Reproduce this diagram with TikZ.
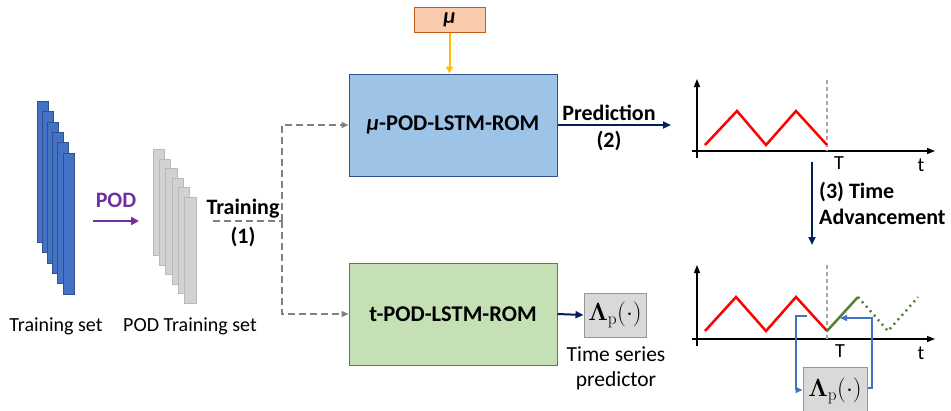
\documentclass[tikz,border=0pt]{standalone}
\usepackage[no-math]{fontspec}
\setmainfont{Carlito}
\usetikzlibrary{arrows.meta}
\definecolor{stackblue}{RGB}{68,114,196}
\definecolor{stackblueb}{RGB}{47,82,143}
\definecolor{stackgray}{RGB}{210,210,210}
\definecolor{stackgrayb}{RGB}{185,185,185}
\definecolor{podpurple}{RGB}{112,48,160}
\definecolor{dashgray}{RGB}{128,128,128}
\definecolor{mufill}{RGB}{248,203,173}
\definecolor{muborder}{RGB}{197,90,17}
\definecolor{muyellow}{RGB}{255,192,0}
\definecolor{bluefill}{RGB}{157,195,230}
\definecolor{blueborder}{RGB}{47,82,143}
\definecolor{greenfill}{RGB}{197,224,180}
\definecolor{greenborder}{RGB}{84,130,53}
\definecolor{navy}{RGB}{0,32,96}
\definecolor{lamfill}{RGB}{217,217,217}
\definecolor{lamborder}{RGB}{150,150,150}
\definecolor{wavered}{RGB}{255,0,0}
\definecolor{wavegreen}{RGB}{84,130,53}
\definecolor{loopblue}{RGB}{68,114,196}
\begin{document}
\begin{tikzpicture}[x=1pt,y=-1pt,
  txt/.style={font=\fontsize{20}{23}\selectfont, inner sep=0pt},
  btxt/.style={font=\fontsize{22}{25}\selectfont\bfseries, inner sep=0pt},
  bluesheet/.style={draw=stackblueb, fill=stackblue, line width=0.8pt, anchor=north west,
     minimum width=11pt, minimum height=141pt, inner sep=0pt},
  graysheet/.style={draw=stackgrayb, fill=stackgray, line width=0.8pt, anchor=north west,
     minimum width=11.3pt, minimum height=106pt, inner sep=0pt},
  romblock/.style={minimum width=208pt, minimum height=102pt, inner sep=0pt, line width=1pt,
     font=\fontsize{22.5}{26}\selectfont\bfseries},
  lambox/.style={draw=lamborder, fill=lamfill, line width=1pt, inner sep=0pt,
     font=\fontsize{27}{30}\selectfont},
  dashconn/.style={draw=dashgray, line width=2pt, dash pattern=on 7pt off 4pt,
     -{Triangle[length=7pt,width=6pt]}},
  navyarrow/.style={draw=navy, line width=2pt, -{Triangle[length=8pt,width=7pt]}},
  axis/.style={draw=black, line width=1.4pt, -{Triangle[length=8pt,width=6pt]}},
  tline/.style={draw=gray!70, line width=1.2pt, dash pattern=on 4pt off 3pt},
  wave/.style={draw=wavered, line width=2.5pt},
  loop/.style={draw=loopblue, line width=1.6pt, -{Triangle[length=7pt,width=6pt]}}
]
\useasboundingbox (0,0) rectangle (951,410);

% Training set stack
\foreach \i in {0,...,5}
  \node[bluesheet] (b\i) at ({37+5.1*\i},{101+10.3*\i}) {};
\node[txt] (tslabel) at (56,326) {Training set};

% POD arrow
\coordinate (podS) at (93,221);
\coordinate (podE) at (139,221);
\draw[draw=podpurple, line width=2.5pt, -{Triangle[length=8pt,width=8pt]}] (podS) -- (podE);
\node[btxt, text=podpurple] (podlabel) at (116,200) {POD};

% POD training set stack
\foreach \i in {0,...,5}
  \node[graysheet] (g\i) at ({152.7+6.3*\i},{149+9.6*\i}) {};
\node[txt] (podtslabel) at (190,326) {POD Training set};

% Training dashed connectors
\coordinate (trS) at (213,221);
\coordinate (junc) at (282,221);
\node[romblock, draw=blueborder, fill=bluefill] (mubox) at (453,125)
  {\itshape μ\upshape-POD-LSTM-ROM};
\node[romblock, draw=greenborder, fill=greenfill] (tbox) at (453,314)
  {t-POD-LSTM-ROM};
\draw[draw=dashgray, line width=2pt, dash pattern=on 7pt off 4pt] (trS) -- (junc);
\draw[dashconn] (junc) |- (mubox.west);
\draw[dashconn] (junc) |- (tbox.west);
\node[btxt] (trlabel) at (243,209) {Training};
\node[btxt] (trnum) at (243,237) {(1)};

% mu parameter
\node[draw=muborder, fill=mufill, line width=1pt, minimum width=71pt, minimum height=25pt, inner sep=0pt]
  (mu) at (449.5,19.5) {\fontsize{22}{25}\selectfont\bfseries\itshape μ};
\draw[draw=muyellow, line width=2pt, -{Triangle[length=7pt,width=7pt]}] (mu.south) -- (mubox.north -| mu.south);

% Prediction
\coordinate (predE) at (671,125);
\draw[navyarrow] (mubox.east) -- (predE);
\node[btxt] (predlabel) at (609,113) {Prediction};
\node[btxt] (prednum) at (609,141) {(2)};

% Time series predictor
\node[lambox, minimum width=62pt, minimum height=44pt] (lam1) at (615,315)
  {$\mathbf{\Lambda}_{\mathrm{p}}(\cdot)$};
\draw[navyarrow] (tbox.east) -- (lam1.west);
\node[font=\fontsize{21.5}{24}\selectfont, inner sep=0pt, align=center] (tsp) at (616,368)
  {Time series\\[1pt]predictor};

% Top plot
\coordinate (o1) at (697,151);
\coordinate (ya1) at (697,79);
\coordinate (yb1) at (697,158);
\coordinate (xa1) at (692,151);
\coordinate (xb1) at (935,151);
\draw[axis] (yb1) -- (ya1);
\draw[draw=black, line width=1.4pt] (xa1) -- (o1);
\draw[axis] (o1) -- (xb1);
\coordinate (T1top) at (827,80);
\coordinate (T1bot) at (827,151);
\draw[tline] (T1top) -- (T1bot);
\draw[wave] (705,145) -- (737,111) -- (766,145) -- (796,111) -- (827,145);
\node[txt] (T1) at (839,163) {T};
\node[txt] (t1) at (921,165) {t};

% Time advancement
\coordinate (taS) at (812,162);
\coordinate (taE) at (812,245);
\draw[navyarrow] (taS) -- (taE);
\node[btxt, anchor=west] (ta1) at (819,192) {(3) Time};
\node[btxt, anchor=west] (ta2) at (819,217) {Advancement};

% Bottom plot
\coordinate (o2) at (697,339);
\coordinate (ya2) at (697,265);
\coordinate (yb2) at (697,346);
\coordinate (xa2) at (692,339);
\coordinate (xb2) at (935,339);
\draw[axis] (yb2) -- (ya2);
\draw[draw=black, line width=1.4pt] (xa2) -- (o2);
\draw[axis] (o2) -- (xb2);
\coordinate (T2top) at (827,265);
\coordinate (T2bot) at (827,339);
\draw[tline] (T2top) -- (T2bot);
\draw[wave] (705,331) -- (736,297) -- (766,331) -- (796,297) -- (827,331);
\draw[draw=wavegreen, line width=2.5pt] (827,331) -- (858,297);
\draw[draw=wavegreen, line width=2.5pt, dash pattern=on 2pt off 4pt] (858,297) -- (888,331) -- (918,297);
\node[txt] (T2) at (840,351) {T};
\node[txt] (t2) at (921,353) {t};

% Feedback loop
\node[lambox, anchor=north, minimum width=64pt, minimum height=46pt] (lam2) at (835,367)
  {$\mathbf{\Lambda}_{\mathrm{p}}(\cdot)$};
\coordinate (lpS) at (807,316);
\coordinate (lpL) at (796,316);
\draw[loop] (lpS) -- (lpL) |- (lam2.west |- 0,390);
\coordinate (rpR) at (872,388);
\coordinate (rpE) at (840,318);
\draw[loop] (lam2.east |- 0,388) -- (rpR) |- (rpE);
\end{tikzpicture}
\end{document}
